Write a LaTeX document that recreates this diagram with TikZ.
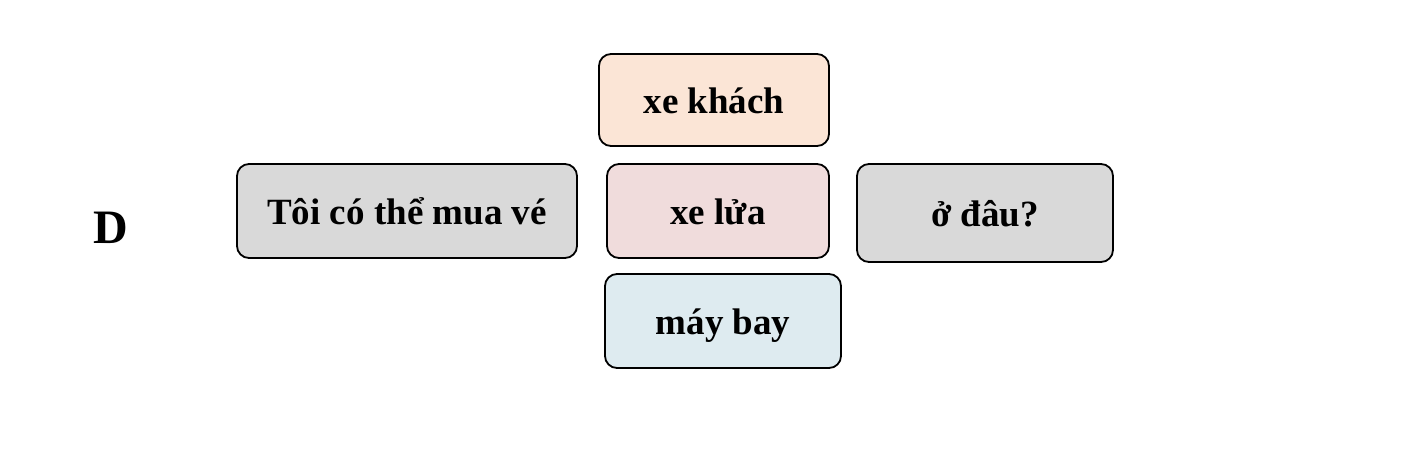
\documentclass[tikz,border=0pt]{standalone}
\usepackage{fontspec}
\setmainfont{Liberation Serif}
\usepackage{tikz}
\usetikzlibrary{shapes}
\definecolor{boxgray}{HTML}{D9D9D9}
\definecolor{boxpeach}{HTML}{FBE5D6}
\definecolor{boxpink}{HTML}{F0DCDC}
\definecolor{boxblue}{HTML}{DEEBF0}
\tikzstyle{wordblock} = [rectangle, draw, line width=1.8pt, rounded corners=12pt,
    text centered, inner sep=0pt, text height=30pt, text depth=4pt,
    font=\fontsize{37}{40}\selectfont\bfseries]

\begin{document}
\begin{tikzpicture}[x=1pt, y=-1pt]
    \useasboundingbox (0,0) rectangle (1428,464);
    \node (label) at (111,228) {\fontsize{48}{50}\selectfont\bfseries D};
    \node [wordblock, fill=boxgray, minimum width=340pt, minimum height=94pt] (subject) at (407,211) {Tôi có thể mua vé};
    % transport choices
    \node [wordblock, fill=boxpeach, minimum width=230pt, minimum height=92pt] (bus) at (714,100) {xe khách};
    \node [wordblock, fill=boxpink, minimum width=222pt, minimum height=94pt] (train) at (718,211) {xe lửa};
    \node [wordblock, fill=boxblue, minimum width=236pt, minimum height=94pt] (plane) at (723,321) {máy bay};
    \node [wordblock, fill=boxgray, minimum width=256pt, minimum height=98pt] (where) at (985,213) {ở đâu?};
\end{tikzpicture}
\end{document}
